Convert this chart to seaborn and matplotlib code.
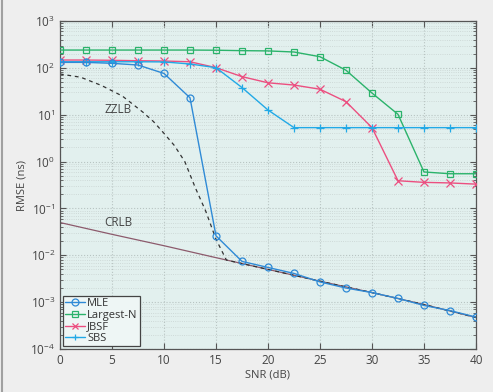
import numpy as np
import pandas as pd
import matplotlib
matplotlib.use("Agg")
import matplotlib.pyplot as plt
from matplotlib.lines import Line2D
from matplotlib.ticker import LogLocator, FixedLocator
import seaborn as sns

snr = [0, 2.5, 5, 7.5, 10, 12.5, 15, 17.5, 20, 22.5, 25, 27.5, 30, 32.5, 35, 37.5, 40]

mle = [131, 131, 125, 115, 76, 23, 0.026, 0.0074, 0.0055, 0.0041, 0.0027,
       0.0020, 0.0016, 0.0012, 0.00085, 0.00066, 0.00048]
largest_n = [240, 240, 240, 240, 240, 240, 238, 233, 230, 218, 173,
             89, 29, 10.2, 0.6, 0.55, 0.55]
jbsf = [147, 147, 145, 142, 140, 135, 101, 65, 48, 43, 35,
        19, 5.3, 0.39, 0.36, 0.35, 0.33]
sbs = [135, 135, 135, 135, 134, 121, 101, 38, 12.6, 5.3, 5.3,
       5.3, 5.3, 5.3, 5.3, 5.3, 5.3]

crlb_snr = [0, 5, 10, 15, 20, 25, 30, 35, 40]
crlb = [0.050, 0.028, 0.016, 0.0089, 0.0050, 0.0028, 0.0016, 0.00089, 0.00047]

zzlb_snr = [0, 2, 4, 6, 8, 9, 10, 11, 12, 13, 14, 15, 16, 20, 25, 30, 35, 40]
zzlb = [74, 63, 42, 25, 11.2, 7.1, 4.0, 2.2, 1.0, 0.28, 0.089, 0.022, 0.0079,
        0.0050, 0.0028, 0.0016, 0.00089, 0.00047]

names = ["MLE", "Largest-N", "JBSF", "SBS"]
colors = {"MLE": "#2f8ad6", "Largest-N": "#2bb36b", "JBSF": "#ec4f80", "SBS": "#22a9e6"}
markers = {"MLE": "o", "Largest-N": "s", "JBSF": "x", "SBS": "+"}
series = {"MLE": mle, "Largest-N": largest_n, "JBSF": jbsf, "SBS": sbs}

sns.set_style("ticks")
plt.rcParams["font.family"] = ["Open Sans", "DejaVu Sans"]
plt.rcParams["mathtext.fontset"] = "custom"
plt.rcParams["mathtext.rm"] = "Open Sans"
plt.rcParams["mathtext.it"] = "Open Sans"

fig = plt.figure(figsize=(4.93, 3.92), dpi=100, facecolor="#eeeeee")
ax = fig.add_axes([0.1217, 0.1097, 0.8438, 0.8367])
ax.set_facecolor("#e2f0ee")

# bounds
ax.plot(crlb_snr, crlb, color="#8c5a6c", lw=0.9, zorder=2)
ax.plot(zzlb_snr, zzlb, color="#333333", lw=0.9, ls=(0, (3, 3)), zorder=2)

for name in ["Largest-N", "JBSF", "SBS", "MLE"]:
    mk = markers[name]
    kw = dict(markerfacecolor="none", markersize=5, markeredgewidth=0.9)
    if mk in ("x", "+"):
        kw = dict(markersize=6, markeredgewidth=0.9)
    sns.lineplot(x=snr, y=series[name], color=colors[name], marker=mk,
                 lw=1.0, markeredgecolor=colors[name], ax=ax, zorder=3,
                 legend=False, **kw)

ax.set_yscale("log")
ax.set_xlim(0, 40)
ax.set_ylim(1e-4, 1e3)
ax.set_xticks(range(0, 45, 5))
ax.yaxis.set_major_locator(FixedLocator([10.0 ** k for k in range(-4, 4)]))
ax.yaxis.set_minor_locator(LogLocator(base=10, subs=np.arange(2, 10), numticks=20))
ax.set_yticklabels([r"$\mathregular{10^{%d}}$" % k for k in range(-4, 4)])

ax.grid(which="major", color="#b8c4c2", ls=":", lw=0.8)
ax.grid(which="minor", axis="y", color="#c8d3d1", ls=":", lw=0.6)
ax.tick_params(which="both", direction="in", top=True, right=True,
               colors="#555555", labelcolor="#444444", labelsize=8.5)
ax.tick_params(which="major", length=4)
ax.tick_params(which="minor", length=2.5)
for s in ax.spines.values():
    s.set_color("#555555")
    s.set_linewidth(0.9)

ax.set_xlabel("SNR (dB)", fontsize=8, color="#444444", labelpad=2)
ax.set_ylabel("RMSE (ns)", fontsize=8, color="#444444", labelpad=2)

ax.text(5.6, 13, "ZZLB", fontsize=8.5, color="#444444", ha="center", va="center")
ax.text(5.6, 0.05, "CRLB", fontsize=8.5, color="#444444", ha="center", va="center")

handles = []
for name in names:
    mk = markers[name]
    mfc = "none" if mk in ("o", "s") else colors[name]
    handles.append(Line2D([], [], color=colors[name], marker=mk, mfc=mfc,
                          mec=colors[name], lw=1.0, ms=5, mew=0.9))
leg = ax.legend(handles, names, loc="lower left", fontsize=8, frameon=True,
                fancybox=False, borderaxespad=0.25, handlelength=1.8,
                handletextpad=0.2, labelspacing=0.05, borderpad=0.2)
leg.get_frame().set_edgecolor("#444444")
leg.get_frame().set_facecolor("#eef6f5")
leg.get_frame().set_alpha(1)
leg.get_frame().set_linewidth(0.9)
for t in leg.get_texts():
    t.set_color("#333333")

fig.add_artist(Line2D([0.005, 0.005], [0, 1], color="#a0a0a0", lw=1.5,
                      transform=fig.transFigure))

fig.savefig("out.png", dpi=100, facecolor=fig.get_facecolor())
